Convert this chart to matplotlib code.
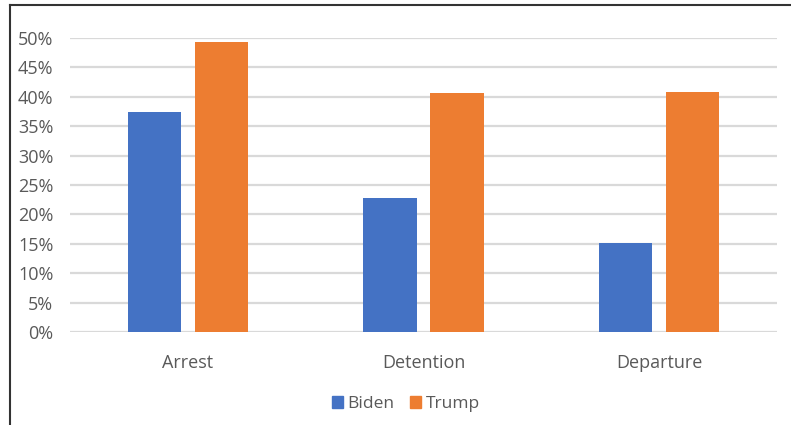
import matplotlib.pyplot as plt
from matplotlib.lines import Line2D
from matplotlib.patches import Patch
import numpy as np

# share of removals by stage
categories = ["Arrest", "Detention", "Departure"]
biden = [0.375, 0.228, 0.151]
trump = [0.493, 0.407, 0.408]
yticks = [0, 0.05, 0.10, 0.15, 0.20, 0.25, 0.30, 0.35, 0.40, 0.45, 0.50]

blue = "#4472C4"
orange = "#ED7D31"
txt = "#595959"

plt.rcParams["font.family"] = ["Open Sans", "DejaVu Sans"]

W, H = 791, 425
fig = plt.figure(figsize=(W / 100, H / 100), dpi=100)
ax = fig.add_axes([70 / W, 1 - 332 / H, 707 / W, 294 / H])

x = np.arange(len(categories))
bw = 0.226
off = 0.1425
ax.bar(x - off, biden, bw, color=blue, zorder=3)
ax.bar(x + off, trump, bw, color=orange, zorder=3)

ax.set_xlim(-0.5, 2.5)
ax.set_ylim(0, 0.5)
ax.set_yticks(yticks)
ax.set_yticklabels([f"{int(round(v * 100))}%" for v in yticks])
ax.set_xticks(x)
ax.set_xticklabels(categories)
ax.tick_params(axis="y", length=0, pad=12, labelsize=13, labelcolor=txt)
ax.tick_params(axis="x", length=0, pad=15.5, labelsize=13, labelcolor=txt)
ax.grid(axis="y", color="#d9d9d9", lw=1.6, zorder=0)
ax.set_axisbelow(True)
for s in ax.spines.values():
    s.set_visible(False)

handles = [Patch(color=blue, label="Biden"), Patch(color=orange, label="Trump")]
fig.legend(handles=handles, loc="center", bbox_to_anchor=(406 / W, 1 - 404 / H),
           ncol=2, frameon=False, fontsize=12.5, labelcolor=txt,
           handlelength=0.63, handleheight=0.63, handletextpad=0.25,
           columnspacing=0.9)

# frame lines of the cropped screenshot
fig.add_artist(Line2D([10 / W, 10 / W], [0, 1 - 5 / H], color="#333333", lw=1.5))
fig.add_artist(Line2D([10 / W, 1], [1 - 5 / H, 1 - 5 / H], color="#333333", lw=1.5))

fig.savefig("out.png", dpi=100)
